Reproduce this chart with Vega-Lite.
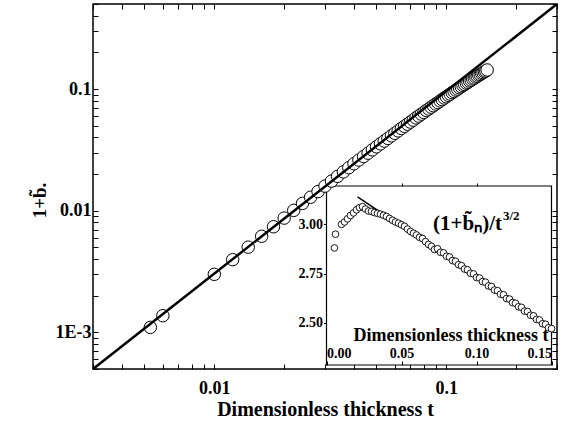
{
  "$schema": "https://vega.github.io/schema/vega-lite/v6.json",
  "width": 464,
  "height": 365,
  "autosize": "none",
  "padding": {"left": 93, "top": 4, "right": 6, "bottom": 55},
  "background": "white",
  "config": {
    "view": {"stroke": "black", "strokeWidth": 1.5},
    "font": "Liberation Serif",
    "axis": {"grid": false, "domain": false, "tickColor": "black", "labelColor": "black", "titleColor": "black", "labelFont": "Liberation Serif", "titleFont": "Liberation Serif", "labelFontWeight": "bold", "titleFontWeight": "bold"}
  },
  "datasets": {
    "pts": [
      {"t": 0.0053, "b": 0.001099, "r": 2.88},
      {"t": 0.006, "b": 0.001371, "r": 2.95},
      {"t": 0.010, "b": 0.003000, "r": 3.000},
      {"t": 0.012, "b": 0.0039593, "r": 3.012},
      {"t": 0.014, "b": 0.0050159, "r": 3.028},
      {"t": 0.016, "b": 0.0061628, "r": 3.045},
      {"t": 0.018, "b": 0.0073851, "r": 3.058},
      {"t": 0.020, "b": 0.0086945, "r": 3.074},
      {"t": 0.022, "b": 0.0100667, "r": 3.085},
      {"t": 0.024, "b": 0.0114889, "r": 3.090},
      {"t": 0.026, "b": 0.0129042, "r": 3.078},
      {"t": 0.028, "b": 0.0143745, "r": 3.068},
      {"t": 0.030, "b": 0.0159316, "r": 3.066},
      {"t": 0.032, "b": 0.0175164, "r": 3.060},
      {"t": 0.034, "b": 0.0191590, "r": 3.056},
      {"t": 0.036, "b": 0.0208467, "r": 3.052},
      {"t": 0.038, "b": 0.0225635, "r": 3.046},
      {"t": 0.040, "b": 0.0243200, "r": 3.040},
      {"t": 0.042, "b": 0.0260804, "r": 3.030},
      {"t": 0.044, "b": 0.0278823, "r": 3.021},
      {"t": 0.046, "b": 0.0297161, "r": 3.012},
      {"t": 0.048, "b": 0.0316120, "r": 3.006},
      {"t": 0.050, "b": 0.0335185, "r": 2.998},
      {"t": 0.052, "b": 0.0354548, "r": 2.990},
      {"t": 0.054, "b": 0.0373443, "r": 2.976},
      {"t": 0.056, "b": 0.0392789, "r": 2.964},
      {"t": 0.058, "b": 0.0412763, "r": 2.955},
      {"t": 0.060, "b": 0.0432971, "r": 2.946},
      {"t": 0.062, "b": 0.0452948, "r": 2.934},
      {"t": 0.064, "b": 0.0474067, "r": 2.928},
      {"t": 0.066, "b": 0.0493750, "r": 2.912},
      {"t": 0.068, "b": 0.0513879, "r": 2.898},
      {"t": 0.070, "b": 0.0534866, "r": 2.888},
      {"t": 0.072, "b": 0.0554859, "r": 2.872},
      {"t": 0.074, "b": 0.0578942, "r": 2.876},
      {"t": 0.076, "b": 0.0598802, "r": 2.858},
      {"t": 0.078, "b": 0.0621939, "r": 2.855},
      {"t": 0.080, "b": 0.0642166, "r": 2.838},
      {"t": 0.082, "b": 0.0665457, "r": 2.834},
      {"t": 0.084, "b": 0.0685572, "r": 2.816},
      {"t": 0.086, "b": 0.0709192, "r": 2.812},
      {"t": 0.088, "b": 0.0729635, "r": 2.795},
      {"t": 0.090, "b": 0.0753300, "r": 2.790},
      {"t": 0.092, "b": 0.0773806, "r": 2.773},
      {"t": 0.094, "b": 0.0798020, "r": 2.769},
      {"t": 0.096, "b": 0.0818271, "r": 2.751},
      {"t": 0.098, "b": 0.0843056, "r": 2.748},
      {"t": 0.100, "b": 0.0863302, "r": 2.730},
      {"t": 0.102, "b": 0.0888350, "r": 2.727},
      {"t": 0.104, "b": 0.0908572, "r": 2.709},
      {"t": 0.106, "b": 0.0933870, "r": 2.706},
      {"t": 0.108, "b": 0.0953683, "r": 2.687},
      {"t": 0.110, "b": 0.0979201, "r": 2.684},
      {"t": 0.112, "b": 0.0999281, "r": 2.666},
      {"t": 0.114, "b": 0.1025010, "r": 2.663},
      {"t": 0.116, "b": 0.1044992, "r": 2.645},
      {"t": 0.118, "b": 0.1070916, "r": 2.642},
      {"t": 0.120, "b": 0.1090360, "r": 2.623},
      {"t": 0.122, "b": 0.1116455, "r": 2.620},
      {"t": 0.124, "b": 0.1136161, "r": 2.602},
      {"t": 0.126, "b": 0.1162418, "r": 2.599},
      {"t": 0.128, "b": 0.1181961, "r": 2.581},
      {"t": 0.130, "b": 0.1208365, "r": 2.578},
      {"t": 0.132, "b": 0.1227245, "r": 2.559},
      {"t": 0.134, "b": 0.1254260, "r": 2.557},
      {"t": 0.136, "b": 0.1272919, "r": 2.538},
      {"t": 0.138, "b": 0.1299563, "r": 2.535},
      {"t": 0.140, "b": 0.1318485, "r": 2.517},
      {"t": 0.142, "b": 0.1345234, "r": 2.514},
      {"t": 0.144, "b": 0.1363370, "r": 2.495},
      {"t": 0.146, "b": 0.1390200, "r": 2.492},
      {"t": 0.148, "b": 0.1408616, "r": 2.474},
      {"t": 0.150, "b": 0.1434942, "r": 2.470}
    ],
    "mainline": [{"t": 0.003, "b": 0.0005}, {"t": 0.3, "b": 0.5}],
    "insetline": [{"t": 0.0207, "r": 3.14}, {"t": 0.15, "r": 2.478}]
  },
  "resolve": {"scale": {"x": "independent", "y": "independent"}, "axis": {"x": "independent", "y": "independent"}},
  "layer": [
    {
      "data": {"values": [{}]},
      "mark": {"type": "rect", "fill": "white", "stroke": "black", "strokeWidth": 1.2},
      "encoding": {
        "x": {"datum": 0, "type": "quantitative", "scale": {"type": "linear", "domain": [0, 0.15], "range": [233.5, 458.5], "nice": false, "zero": false}, "axis": null},
        "x2": {"datum": 0.15},
        "y": {"datum": 2.285, "type": "quantitative", "scale": {"type": "linear", "domain": [2.285, 3.195], "range": [361, 182], "nice": false, "zero": false}, "axis": null},
        "y2": {"datum": 3.195}
      }
    },
    {
      "data": {"name": "insetline"},
      "mark": {"type": "line", "color": "black", "strokeWidth": 1.5},
      "encoding": {
        "x": {"field": "t", "type": "quantitative", "scale": {"type": "linear", "domain": [0, 0.15], "range": [233.5, 458.5], "nice": false, "zero": false},
          "axis": {"orient": "top", "offset": -182, "values": [0.05, 0.1], "labels": false, "tickSize": 3, "title": null, "zindex": 1}},
        "y": {"field": "r", "type": "quantitative", "scale": {"type": "linear", "domain": [2.285, 3.195], "range": [361, 182], "nice": false, "zero": false}, "axis": null}
      }
    },
    {
      "data": {"name": "pts"},
      "mark": {"type": "point", "shape": "circle", "filled": false, "fill": "white", "fillOpacity": 1, "stroke": "black", "strokeWidth": 0.9, "size": 45, "opacity": 1},
      "encoding": {
        "x": {"field": "t", "type": "quantitative", "scale": {"type": "linear", "domain": [0, 0.15], "range": [233.5, 458.5], "nice": false, "zero": false},
          "axis": {"orient": "top", "offset": -361, "values": [0, 0.05, 0.1, 0.15], "format": ".2f", "labelFlush": true, "tickSize": 4, "labelPadding": 1, "labelFontSize": 14, "title": "Dimensionless thickness t", "titleFontSize": 18, "titlePadding": 2, "titleX": 455, "titleAlign": "right", "zindex": 1}},
        "y": {"field": "r", "type": "quantitative", "scale": {"type": "linear", "domain": [2.285, 3.195], "range": [361, 182], "nice": false, "zero": false},
          "axis": {"orient": "left", "offset": -233.5, "values": [2.5, 2.75, 3.0], "format": ".2f", "tickSize": 3, "labelPadding": 1, "labelFontSize": 14, "title": null, "zindex": 1}}
      }
    },
    {
      "data": {"values": [{}]},
      "mark": {"type": "text", "text": "(1+b\u0303\u2099)/t", "align": "right", "baseline": "alphabetic", "fontSize": 21, "fontWeight": "bold", "font": "Liberation Serif", "color": "black"},
      "encoding": {
        "x": {"datum": 0.117, "type": "quantitative", "scale": {"type": "linear", "domain": [0, 0.15], "range": [233.5, 458.5], "nice": false, "zero": false}, "axis": null},
        "y": {"datum": 2.971, "type": "quantitative", "scale": {"type": "linear", "domain": [2.285, 3.195], "range": [361, 182], "nice": false, "zero": false}, "axis": null}
      }
    },
    {
      "data": {"values": [{}]},
      "mark": {"type": "text", "text": "3/2", "align": "left", "baseline": "alphabetic", "dy": -10, "dx": 1, "fontSize": 13, "fontWeight": "bold", "font": "Liberation Serif", "color": "black"},
      "encoding": {
        "x": {"datum": 0.117, "type": "quantitative", "scale": {"type": "linear", "domain": [0, 0.15], "range": [233.5, 458.5], "nice": false, "zero": false}, "axis": null},
        "y": {"datum": 2.971, "type": "quantitative", "scale": {"type": "linear", "domain": [2.285, 3.195], "range": [361, 182], "nice": false, "zero": false}, "axis": null}
      }
    },
    {
      "data": {"name": "pts"},
      "mark": {"type": "point", "shape": "circle", "filled": false, "fill": "white", "fillOpacity": 1, "stroke": "black", "strokeWidth": 1, "size": 155, "opacity": 1},
      "encoding": {
        "x": {"field": "t", "type": "quantitative", "scale": {"type": "log", "domain": [0.003, 0.3], "nice": false},
          "axis": {"orient": "bottom", "values": [0.003, 0.004, 0.005, 0.006, 0.007, 0.008, 0.009, 0.01, 0.02, 0.03, 0.04, 0.05, 0.06, 0.07, 0.08, 0.09, 0.1, 0.2, 0.3],
            "labelExpr": "datum.value == 0.01 ? '0.01' : (datum.value == 0.1 ? '0.1' : '')", "tickSize": -5, "labelPadding": 15, "labelFontSize": 18,
            "title": "Dimensionless thickness t", "titleFontSize": 20, "titlePadding": 2}},
        "y": {"field": "b", "type": "quantitative", "scale": {"type": "log", "domain": [0.0005, 0.5], "nice": false},
          "axis": {"orient": "left", "values": [0.0005, 0.0006, 0.0007, 0.0008, 0.0009, 0.001, 0.002, 0.003, 0.004, 0.005, 0.006, 0.007, 0.008, 0.009, 0.01, 0.02, 0.03, 0.04, 0.05, 0.06, 0.07, 0.08, 0.09, 0.1, 0.2, 0.3, 0.4, 0.5],
            "labelExpr": "datum.value == 0.1 ? '0.1' : (datum.value == 0.01 ? '0.01' : (datum.value == 0.001 ? '1E-3' : ''))", "tickSize": -5, "labelPadding": 7, "labelFontSize": 18,
            "title": "1+b\u0303.", "titleFontSize": 19, "titlePadding": 6, "titleY": 196}}
      }
    },
    {
      "data": {"name": "mainline"},
      "mark": {"type": "line", "color": "black", "strokeWidth": 2.5},
      "encoding": {
        "x": {"field": "t", "type": "quantitative", "scale": {"type": "log", "domain": [0.003, 0.3], "nice": false},
          "axis": {"orient": "top", "values": [0.003, 0.004, 0.005, 0.006, 0.007, 0.008, 0.009, 0.01, 0.02, 0.03, 0.04, 0.05, 0.06, 0.07, 0.08, 0.09, 0.1, 0.2, 0.3], "labels": false, "tickSize": -5, "title": null}},
        "y": {"field": "b", "type": "quantitative", "scale": {"type": "log", "domain": [0.0005, 0.5], "nice": false},
          "axis": {"orient": "right", "values": [0.0005, 0.0006, 0.0007, 0.0008, 0.0009, 0.001, 0.002, 0.003, 0.004, 0.005, 0.006, 0.007, 0.008, 0.009, 0.01, 0.02, 0.03, 0.04, 0.05, 0.06, 0.07, 0.08, 0.09, 0.1, 0.2, 0.3, 0.4, 0.5], "labels": false, "tickSize": -5, "title": null}}
      }
    }
  ]
}
